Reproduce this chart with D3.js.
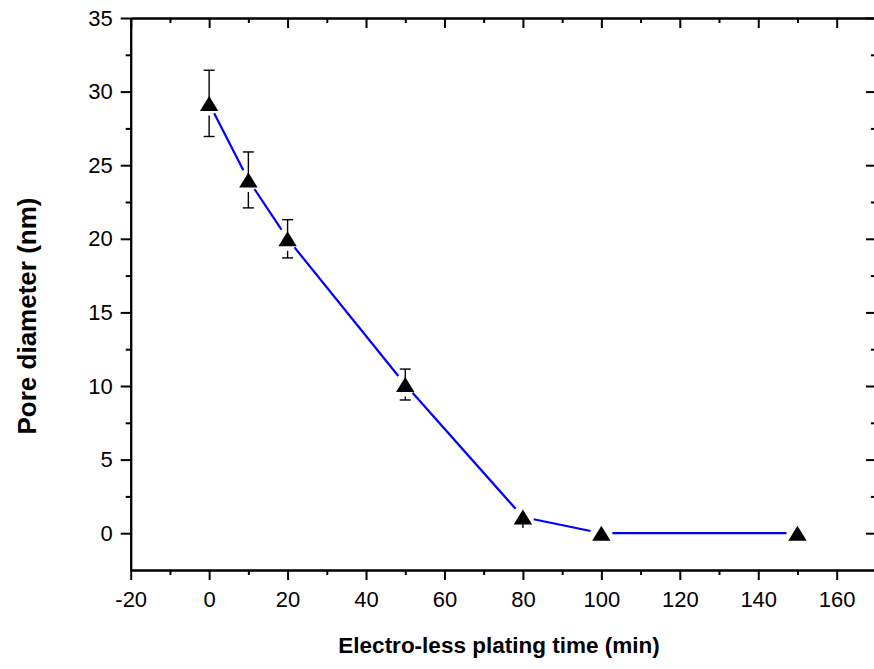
<!DOCTYPE html>
<html>
<head>
<meta charset="utf-8">
<script src="https://cdn.jsdelivr.net/npm/d3@7"></script>
<style>
  html, body { margin: 0; padding: 0; background: #fff; }
  svg { display: block; }
  text { font-family: "Liberation Sans", Arial, sans-serif; fill: #000; }
</style>
</head>
<body>
<svg id="chart" width="874" height="669"></svg>
<script>
// ---- data ----
const time = [0, 10, 20, 50, 80, 100, 150];
const diameter = [29.2, 24.0, 20.0, 10.1, 1.1, 0, 0];
const errUp = [2.25, 1.9, 1.3, 1.05, 0.3, 0, 0];
const errDown = [2.25, 1.9, 1.3, 1.05, 0.75, 0, 0];
const xTicks = [-20, 0, 20, 40, 60, 80, 100, 120, 140, 160];
const yTicks = [0, 5, 10, 15, 20, 25, 30, 35];
const xMinor = [-10, 10, 30, 50, 70, 90, 110, 130, 150];
const yMinor = [2.5, 7.5, 12.5, 17.5, 22.5, 27.5, 32.5];
const xTitle = "Electro-less plating time (min)";
const yTitle = "Pore diameter (nm)";

// ---- layout ----
const svg = d3.select("#chart");
const L = 130.7, R = 875.9, T = 18, B = 570;
const x = d3.scaleLinear().domain([-20, 170]).range([L, R]);
const y = d3.scaleLinear().domain([-2.5, 35]).range([B, T]);
const fmt = d => String(d);

function styleAxis(g) {
  g.selectAll("path.domain").attr("stroke", "#000").attr("stroke-width", 2);
  g.selectAll(".tick line").attr("stroke", "#000").attr("stroke-width", 2);
  g.selectAll(".tick text").style("font-size", "22px").attr("fill", "#000");
}

// bottom
svg.append("g").attr("transform", `translate(0,${B})`)
  .call(d3.axisBottom(x).tickValues(xTicks).tickSize(10).tickSizeOuter(0).tickPadding(11).tickFormat(fmt))
  .call(styleAxis);
svg.append("g").attr("transform", `translate(0,${B})`)
  .call(d3.axisBottom(x).tickValues(xMinor).tickSize(5).tickSizeOuter(0).tickFormat(""))
  .call(styleAxis);
// top (inward)
svg.append("g").attr("transform", `translate(0,${T})`)
  .call(d3.axisTop(x).tickValues(xTicks).tickSize(-10).tickSizeOuter(0).tickFormat(""))
  .call(styleAxis);
svg.append("g").attr("transform", `translate(0,${T})`)
  .call(d3.axisTop(x).tickValues(xMinor).tickSize(-5).tickSizeOuter(0).tickFormat(""))
  .call(styleAxis);
// left
svg.append("g").attr("transform", `translate(${L},0)`)
  .call(d3.axisLeft(y).tickValues(yTicks).tickSize(10).tickSizeOuter(0).tickPadding(8).tickFormat(fmt))
  .call(styleAxis);
svg.append("g").attr("transform", `translate(${L},0)`)
  .call(d3.axisLeft(y).tickValues(yMinor).tickSize(5).tickSizeOuter(0).tickFormat(""))
  .call(styleAxis);
// right (inward)
svg.append("g").attr("transform", `translate(${R},0)`)
  .call(d3.axisRight(y).tickValues(yTicks).tickSize(-10).tickSizeOuter(0).tickFormat(""))
  .call(styleAxis);
svg.append("g").attr("transform", `translate(${R},0)`)
  .call(d3.axisRight(y).tickValues(yMinor).tickSize(-5).tickSizeOuter(0).tickFormat(""))
  .call(styleAxis);

// ---- line with gaps around markers ----
const pts = time.map((t, i) => ({ px: x(t), py: y(diameter[i]) }));
const gap = 11;
const segs = [];
for (let i = 0; i < pts.length - 1; i++) {
  const a = pts[i], b = pts[i + 1];
  const dx = b.px - a.px, dy = b.py - a.py, len = Math.hypot(dx, dy);
  const ux = dx / len, uy = dy / len;
  segs.push([[a.px + ux * gap, a.py + uy * gap], [b.px - ux * gap, b.py - uy * gap]]);
}
svg.append("g").selectAll("line.seg").data(segs).join("line")
  .attr("x1", d => d[0][0]).attr("y1", d => d[0][1])
  .attr("x2", d => d[1][0]).attr("y2", d => d[1][1])
  .attr("stroke", "#0000ff").attr("stroke-width", 2.2);

// ---- error bars ----
const eb = svg.append("g").attr("stroke", "#000").attr("stroke-width", 1.4).attr("fill", "none");
time.forEach((t, i) => {
  if (!errUp[i] && !errDown[i]) return;
  const cx = x(t), cy = y(diameter[i]);
  const top = y(diameter[i] + errUp[i]);
  const bot = y(diameter[i] - errDown[i]);
  const cap = 5.5;
  if (top < cy - 9) {
    eb.append("line").attr("x1", cx).attr("x2", cx).attr("y1", cy - 6).attr("y2", top);
    eb.append("line").attr("x1", cx - cap).attr("x2", cx + cap).attr("y1", top).attr("y2", top);
  }
  if (bot > cy + 13) {
    eb.append("line").attr("x1", cx).attr("x2", cx).attr("y1", Math.min(cy + 12, bot - 3)).attr("y2", bot);
    eb.append("line").attr("x1", cx - cap).attr("x2", cx + cap).attr("y1", bot).attr("y2", bot);
  } else {
    eb.append("line").attr("x1", cx).attr("x2", cx).attr("y1", cy + 7).attr("y2", bot);
  }
});

// ---- markers ----
const tri = "M0,-7.5L9.2,7.5L-9.2,7.5Z";
svg.append("g").selectAll("path.m").data(pts).join("path")
  .attr("d", tri)
  .attr("transform", d => `translate(${d.px},${d.py})`)
  .attr("fill", "#000");

// ---- titles ----
svg.append("text")
  .attr("x", 499).attr("y", 653)
  .attr("text-anchor", "middle")
  .style("font-size", "22.5px").style("font-weight", "bold")
  .text(xTitle);
svg.append("text")
  .attr("transform", `translate(36,316) rotate(-90)`)
  .attr("text-anchor", "middle")
  .style("font-size", "26px").style("font-weight", "bold")
  .text(yTitle);
</script>
</body>
</html>
